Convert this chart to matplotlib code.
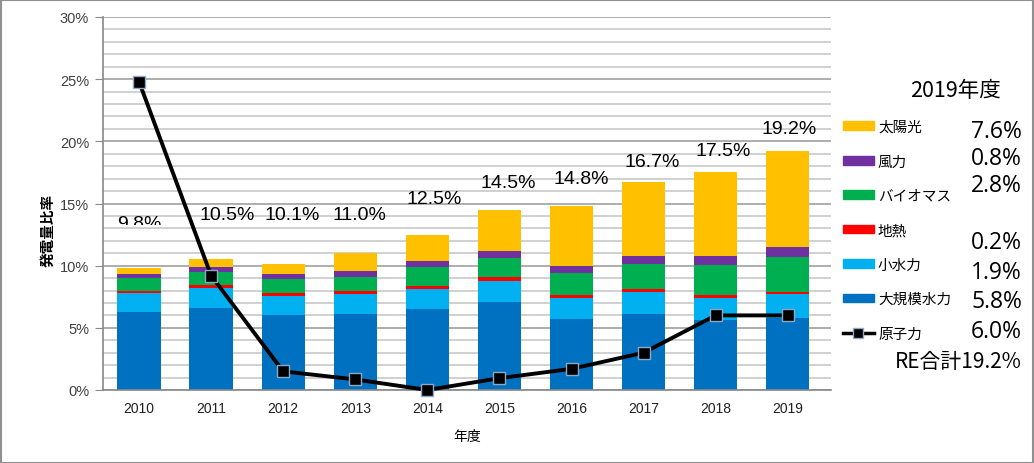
import matplotlib.pyplot as plt
import numpy as np
from matplotlib.patches import Patch, Rectangle
from matplotlib.lines import Line2D
from matplotlib.ticker import MultipleLocator, PercentFormatter

plt.rcParams['font.family'] = ['Liberation Sans', 'Noto Sans CJK JP']

years = ['2010', '2011', '2012', '2013', '2014', '2015', '2016', '2017', '2018', '2019']
large_hydro = [6.3, 6.6, 6.0, 6.1, 6.5, 7.1, 5.7, 6.1, 5.6, 5.8]
small_hydro = [1.5, 1.6, 1.55, 1.6, 1.65, 1.7, 1.7, 1.8, 1.8, 1.9]
geothermal = [0.2, 0.25, 0.25, 0.3, 0.25, 0.25, 0.25, 0.25, 0.25, 0.2]
biomass = [1.0, 1.05, 1.1, 1.1, 1.5, 1.6, 1.75, 2.0, 2.4, 2.8]
wind = [0.35, 0.4, 0.45, 0.45, 0.45, 0.5, 0.6, 0.65, 0.75, 0.8]
solar = [0.45, 0.6, 0.75, 1.45, 2.1, 3.35, 4.8, 5.9, 6.7, 7.7]
nuclear = [24.8, 9.2, 1.5, 0.85, 0.0, 0.95, 1.7, 3.0, 6.0, 6.0]
totals = [9.8, 10.5, 10.1, 11.0, 12.5, 14.5, 14.8, 16.7, 17.5, 19.2]

series_names = ['大規模水力', '小水力', '地熱', 'バイオマス', '風力', '太陽光']
series_colors = ['#0070C0', '#00B0F0', '#FF0000', '#00B050', '#7030A0', '#FFC000']
nuclear_name = '原子力'

# 2019 breakdown shown at right (legend order, top to bottom)
values_2019 = ['7.6%', '0.8%', '2.8%', '0.2%', '1.9%', '5.8%', '6.0%']
values_2019_y = [132, 159, 186, 243, 273, 302, 332]  # pixel rows

# label placement for the total text boxes (data coords)
label_pos = [(0.0, 13.4), (1.22, 14.1), (2.12, 14.1), (3.06, 14.1), (4.09, 15.4),
             (5.12, 16.7), (6.14, 17.0), (7.12, 18.4), (8.1, 19.3), (9.02, 21.0)]

W, H = 1034, 464
fig = plt.figure(figsize=(W / 100, H / 100), dpi=100)
ax = fig.add_axes([103 / W, 1 - 391 / H, 728 / W, 373 / H])

x = np.arange(len(years))
bottom = np.zeros(len(years))
stack = [large_hydro, small_hydro, geothermal, biomass, wind, solar]
for vals, color in zip(stack, series_colors):
    ax.bar(x, vals, width=0.6, bottom=bottom, color=color, zorder=2)
    bottom += np.array(vals)

ax.plot(x, nuclear, color='black', lw=2.8, marker='s', markersize=9,
        markerfacecolor='black', markeredgecolor='#8EA9C8', markeredgewidth=1, zorder=4,
        clip_on=False)

for i, (lx, ly) in enumerate(label_pos):
    t = ax.text(lx, ly, f'{totals[i]:.1f}%', ha='center', va='center', fontsize=14, zorder=5)
    if i == 0:
        # the first text box is cut off in the original
        t.set_clip_on(True)
        t.set_clip_path(Rectangle((-0.5, 13.3), 1.0, 5, transform=ax.transData))

ax.set_xlim(-0.5, 9.6)
ax.set_ylim(0, 30)
ax.yaxis.set_major_locator(MultipleLocator(5))
ax.yaxis.set_minor_locator(MultipleLocator(1))
ax.yaxis.set_major_formatter(PercentFormatter(decimals=0))
ax.grid(axis='y', which='major', color='#A0A0A0', lw=1.2, zorder=0)
ax.grid(axis='y', which='minor', color='#C8C8C8', lw=1.2, zorder=0)
ax.set_axisbelow(True)
ax.set_xticks(x)
ax.set_xticklabels(years)
ax.tick_params(axis='y', which='major', length=6, color='#888888', labelsize=10.5,
               labelcolor='#404040', pad=4)
ax.tick_params(axis='y', which='minor', length=0)
ax.tick_params(axis='x', length=0, labelsize=10, labelcolor='#202020', pad=8)
for s in ['top', 'right']:
    ax.spines[s].set_visible(False)
for s in ['left', 'bottom']:
    ax.spines[s].set_color('#888888')
    ax.spines[s].set_linewidth(1.2)

ax.set_xlabel('年度', fontsize=10, labelpad=10)
fig.text(48 / W, 1 - 230 / H, '発電量比率', rotation=90, ha='center', va='center',
         fontsize=10.5, fontweight='bold')

handles = [Patch(color=c, label=n) for n, c in zip(series_names, series_colors)][::-1]
handles.append(Line2D([], [], color='black', lw=2.5, marker='s', markersize=7,
                      markerfacecolor='black', markeredgecolor='#8EA9C8', label=nuclear_name))
fig.legend(handles=handles, loc='upper left', bbox_to_anchor=(843 / W, 1 - 121 / H),
           frameon=False, handlelength=2.1, handleheight=0.55,
           handletextpad=0.3, labelspacing=1.4, borderpad=0, borderaxespad=0,
           prop={'family': ['Noto Sans CJK JP'], 'size': 10.5})

for v, py in zip(values_2019, values_2019_y):
    fig.text(1022 / W, 1 - py / H, v, ha='right', va='center', fontsize=16.5,
             family=['Open Sans'])
fig.text(955 / W, 1 - 91 / H, '2019年度', ha='center', va='center', fontsize=15.5,
         family=['Noto Sans CJK JP'])
fig.text(1022 / W, 1 - 362 / H, 'RE合計19.2%', ha='right', va='center', fontsize=15,
         family=['Noto Sans CJK JP'])

fig.patches.append(Rectangle((0.5 / W, 0.5 / H), 1 - 1.5 / W, 1 - 1.5 / H,
                             transform=fig.transFigure, fill=False, ec='#909090', lw=1.5))

fig.savefig('out.png', dpi=100)
